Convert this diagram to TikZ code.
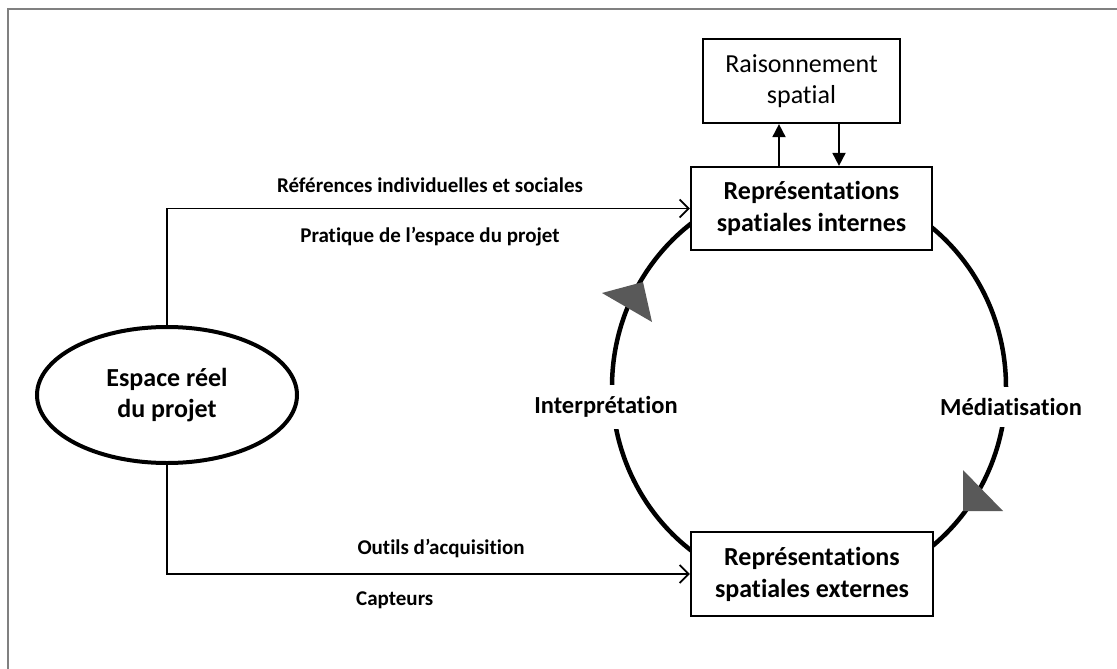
\documentclass[tikz,border=0pt]{standalone}
\usepackage{fontspec}
\setmainfont{Carlito}[Ligatures=NoCommon]
\usetikzlibrary{arrows.meta,shapes.geometric}
\begin{document}
\begin{tikzpicture}[x=1pt,y=-1pt,
  frame/.style={draw=black!50, line width=2.5pt},
  box/.style={draw, line width=2.2pt, fill=white, align=center, inner sep=0pt,
    font=\fontsize{26}{32}\selectfont\bfseries},
  lab/.style={font=\fontsize{21}{25}\selectfont\bfseries, inner sep=1pt},
  clab/.style={font=\fontsize{24.5}{29}\selectfont\bfseries, fill=white, inner xsep=2pt, inner ysep=11pt},
  conn/.style={line width=1.8pt, -{Straight Barb[length=9pt,width=18pt,line width=1.8pt]}},
  vconn/.style={line width=1.8pt, -{Triangle[length=13pt,width=13pt]}},
  cyc/.style={line width=4.5pt},
  tri/.style={fill=black!65}]
\useasboundingbox (0,0) rectangle (1117,669);
\draw[frame] (8,669) -- (8,9) -- (1117,9);

\coordinate (cyc) at (809,387);
\draw[cyc] (cyc) ellipse [x radius=197pt, y radius=204pt];

\node[box, minimum width=241pt, minimum height=83pt] (rsi) at (811.5,208.5) {Représentations\\spatiales internes};
\node[box, minimum width=242pt, minimum height=84pt] (rse) at (812,574) {Représentations\\spatiales externes};
\node[box, font=\fontsize{26}{31}\selectfont, minimum width=197pt, minimum height=84pt] (rs) at (801.5,81) {Raisonnement\\spatial};
\node[ellipse, draw, line width=4pt, fill=white, minimum width=260pt, minimum height=136pt, inner sep=0pt, align=center,
  font=\fontsize{26}{31}\selectfont\bfseries] (esp) at (167,395) {Espace réel\\du projet};

\draw[conn] (esp.north) |- (rsi.west);
\draw[conn] (esp.south) |- (rse.west);
\draw[vconn] ([xshift=-32.5pt]rsi.north) -- ([xshift=-32.5pt]rsi.north |- rs.south);
\draw[vconn] ([xshift=37.5pt]rs.south) -- ([xshift=37.5pt]rs.south |- rsi.north);

\node[lab] (l1) at (430,185) {Références individuelles et sociales};
\node[lab] (l2) at (430,237) {Pratique de l’espace du projet};
\node[lab] (l3) at (441,549) {Outils d’acquisition};
\node[lab, anchor=west] (l4) at (355,600) {Capteurs};

\node[clab] (interp) at (606,407) {Interprétation};
\node[clab] (mediat) at (1011,407) {Médiatisation};

\fill[tri] (643,282) -- (602,293) -- (652,322) -- cycle;
\fill[tri] (963,511) -- (963,470) -- (1003,511) -- cycle;
\end{tikzpicture}
\end{document}
